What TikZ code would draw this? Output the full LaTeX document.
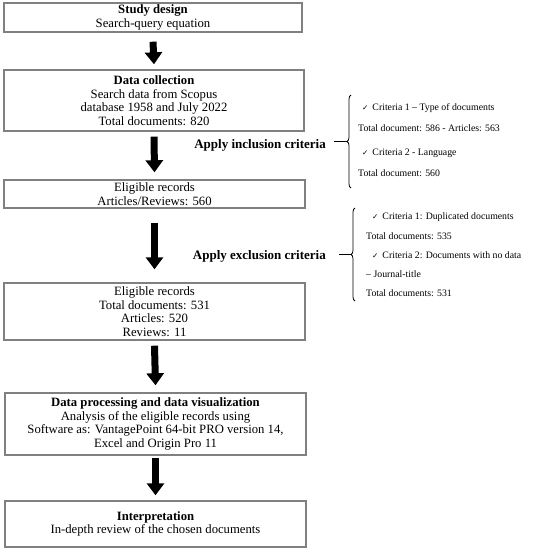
\documentclass[tikz,border=0pt]{standalone}
\usepackage{fontspec}
\setmainfont{Liberation Serif}
\newfontfamily\checkfont{DejaVu Sans}
\usetikzlibrary{arrows.meta,decorations.pathreplacing}
\definecolor{boxgray}{RGB}{128,128,128}
\newcommand{\chk}{{\checkfont\fontsize{7.5}{7.5}\selectfont\char"2713}\hspace{4pt}}

\begin{document}
    \begin{tikzpicture}[x = 1pt, y = -1pt,
            stagebox/.style = {draw = boxgray, line width = 1.4pt, align = center, inner sep = 0pt,
                font = \fontsize{12.7}{13.5}\selectfont},
            bigarrow/.style = {line width = 7pt, -{Triangle[width = 17pt, length = 12pt]}},
            critbrace/.style = {decorate, decoration = {brace, amplitude = 4pt, aspect = 0.5}, line width = 0.8pt}]
        \useasboundingbox (0,0) rectangle (533,550);
        % stages
        \node[stagebox, minimum width = 298pt, minimum height = 29pt] (design) at (153,17.5)
            {\textbf{Study design}\\Search-query equation};
        \node[stagebox, minimum width = 300pt, minimum height = 61pt] (collection) at (154,100.5)
            {\textbf{Data collection}\\Search data from Scopus\\database 1958 and July 2022\\Total documents: 820};
        \node[stagebox, minimum width = 301pt, minimum height = 28pt] (eligibleA) at (154.5,194)
            {Eligible records\\Articles/Reviews: 560};
        \node[stagebox, minimum width = 301pt, minimum height = 57pt] (eligibleB) at (154.5,311.5)
            {Eligible records\\Total documents: 531\\Articles: 520\\Reviews: 11};
        \node[stagebox, minimum width = 301pt, minimum height = 62pt] (processing) at (155.5,424)
            {\textbf{Data processing and data visualization}\\Analysis of the eligible records using\\Software as: VantagePoint 64-bit PRO version 14,\\Excel and Origin Pro 11};
        \node[stagebox, minimum width = 301pt, minimum height = 46pt] (interp) at (155.5,524)
            {\textbf{Interpretation}\\In-depth review of the chosen documents};
        % arrows
        \draw[bigarrow] ([yshift = -9pt]design.south) -- ([yshift = 5pt]collection.north);
        \draw[bigarrow] ([yshift = -5pt]collection.south) -- ([yshift = 7pt]eligibleA.north);
        \draw[bigarrow] ([yshift = -14pt]eligibleA.south) -- ([yshift = 13pt]eligibleB.north);
        \draw[bigarrow] ([yshift = -5pt]eligibleB.south) -- ([yshift = 7pt]processing.north);
        \draw[bigarrow] ([yshift = -2pt]processing.south) -- ([yshift = 5pt]interp.north);
        % criteria
        \node[anchor = east, inner sep = 0pt, font = \fontsize{13}{14}\selectfont\bfseries] (inclusion) at (326,145)
            {Apply inclusion criteria};
        \node[anchor = east, inner sep = 0pt, font = \fontsize{13}{14}\selectfont\bfseries] (exclusion) at (326,256)
            {Apply exclusion criteria};
        \draw[critbrace] (351,188) -- (351,95);
        \draw[critbrace] (355,301) -- (355,208);
        \coordinate (inctip) at (347,141.5);
        \coordinate (exctip) at (351,254.5);
        \draw[line width = 0.8pt] (inctip) -- ++(-13,0);
        \draw[line width = 0.8pt] (exctip) -- ++(-12,0);
        \begin{scope}[every node/.append style = {font = \fontsize{9.8}{11}\selectfont, anchor = west, inner sep = 0pt}]
            \node (incA) at (362,108) {\chk Criteria 1 -- Type of documents};
            \node (incB) at (358,128) {Total document: 586 - Articles: 563};
            \node (incC) at (362,153) {\chk Criteria 2 - Language};
            \node (incD) at (358,173) {Total document: 560};
            \node (excA) at (372,217) {\chk Criteria 1: Duplicated documents};
            \node (excB) at (366,236) {Total documents: 535};
            \node (excC) at (372,255) {\chk Criteria 2: Documents with no data};
            \node (excD) at (366,274) {-- Journal-title};
            \node (excE) at (366,293) {Total documents: 531};
        \end{scope}
    \end{tikzpicture}
\end{document}
